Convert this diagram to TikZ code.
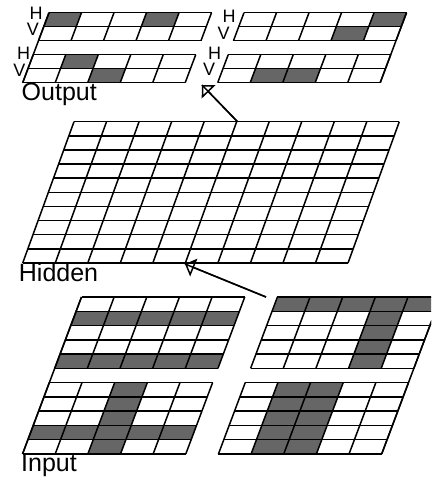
\documentclass[tikz,border=0pt]{standalone}
\usepackage{fontspec}
\setmainfont{Liberation Sans}
\usetikzlibrary{arrows.meta}
\definecolor{cellgray}{HTML}{666666}
\tikzset{
  gridline/.style={line width=1.5pt, line join=miter},
  layerlabel/.style={font=\fontsize{25}{25}\selectfont, inner sep=0pt, anchor=north west},
  hvlabel/.style={font=\fontsize{18}{18}\selectfont, inner sep=0pt},
  conn/.style={line width=1.5pt},
  headtip/.style={-{Triangle[open, length=9.5pt, width=19pt, line width=1.5pt]}},
}
\newcommand\gridblock[4]{%
  \foreach \gi in {0,...,#4}{\draw[gridline] (#1,#2+\gi) -- (#1+#3,#2+\gi);}
  \foreach \gj in {0,...,#3}{\draw[gridline] (#1+\gj,#2) -- (#1+\gj,#2+#4);}
}
\newcommand\dcell[2]{\fill[cellgray] (#1,#2) -- ++(1,0) -- ++(0,1) -- ++(-1,0) -- cycle;}
\begin{document}
\begin{tikzpicture}
\path[use as bounding box, clip] (0,0) rectangle (431pt,-478pt);

% layer labels
\node[layerlabel] (outlabel) at (21.5pt,-82.5pt) {Output};
\node[layerlabel] (hidlabel) at (18.7pt,-263pt) {Hidden};
\node[layerlabel] (inlabel) at (21pt,-454pt) {Input};

% H / V labels
\node[hvlabel] (h1) at (36pt,-13pt) {H};
\node[hvlabel] (v1) at (33pt,-29pt) {V};
\node[hvlabel] (h2) at (23.5pt,-53.5pt) {H};
\node[hvlabel] (v2) at (19.5pt,-70pt) {V};
\node[hvlabel] (h3) at (229pt,-16.3pt) {H};
\node[hvlabel] (v3) at (223.5pt,-33pt) {V};
\node[hvlabel] (h4) at (214.5pt,-53.5pt) {H};
\node[hvlabel] (v4) at (209pt,-69.5pt) {V};

% Output layer
\begin{scope}[shift={(49pt,-12.7pt)}, x={(32.5pt,0pt)}, y={(-5.26pt,-14pt)}]
  \foreach \c/\r in {0/0,3/0,10/0,9/1,1/3,2/4,7/4,8/4}{\dcell{\c}{\r}}
  \gridblock{0}{0}{5}{2}
  \gridblock{6}{0}{5}{2}
  \gridblock{0}{3}{5}{2}
  \gridblock{6}{3}{5}{2}
  \draw[gridline] (0,0) -- (0,5);
  \draw[gridline] (11,0) -- (11,5);
\end{scope}

% Hidden layer
\begin{scope}[shift={(74pt,-121.7pt)}, x={(32.53pt,0pt)}, y={(-5.13pt,-14.13pt)}]
  \gridblock{0}{0}{10}{10}
\end{scope}

% Input layer
\begin{scope}[shift={(81.5pt,-297pt)}, x={(32.65pt,0pt)}, y={(-5.36pt,-14.27pt)}]
  \foreach \c in {0,...,4}{\dcell{\c}{1}\dcell{\c}{4}\dcell{\c}{9}}
  \foreach \c in {6,...,10}{\dcell{\c}{0}}
  \foreach \r in {1,...,4}{\dcell{9}{\r}}
  \foreach \r in {6,...,10}{\dcell{2}{\r}\dcell{7}{\r}\dcell{8}{\r}}
  \gridblock{0}{0}{5}{5}
  \gridblock{6}{0}{5}{5}
  \gridblock{0}{6}{5}{5}
  \gridblock{6}{6}{5}{5}
  \draw[gridline] (0,0) -- (0,11);
  \draw[gridline] (11,0) -- (11,11);
\end{scope}

% connectors
\coordinate (hidTop) at (237.5pt,-121.7pt);
\coordinate (outBot) at (202pt,-85pt);
\coordinate (inTop) at (266pt,-297pt);
\coordinate (hidBot) at (185pt,-264pt);
\draw[conn] (hidTop) -- (outBot);
\draw[conn, headtip] (hidTop) -- (outBot);
\draw[conn] (inTop) -- (hidBot);
\draw[conn, headtip] (inTop) -- (hidBot);
\end{tikzpicture}
\end{document}
